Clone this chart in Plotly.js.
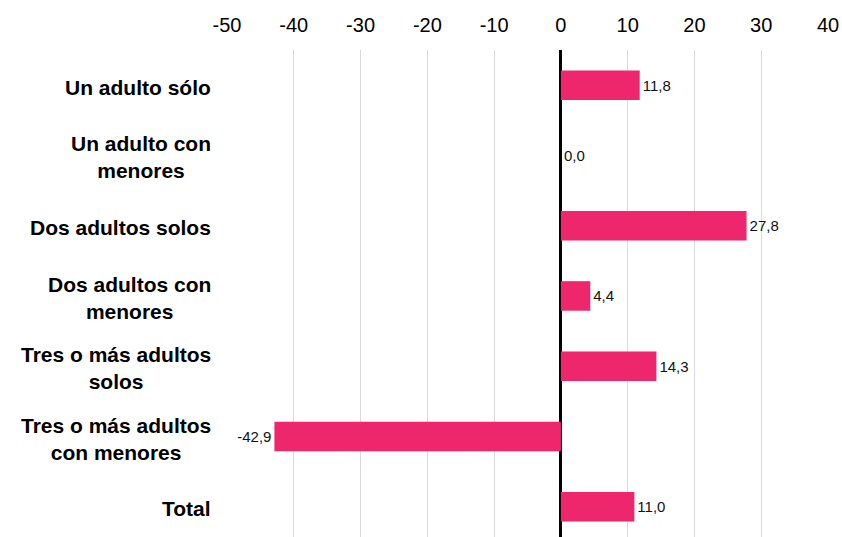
<!DOCTYPE html>
<html>
<head>
<meta charset="utf-8">
<script src="https://cdn.plot.ly/plotly-3.0.1.min.js"></script>
<style>
  html, body { margin: 0; padding: 0; background: #fff; }
  #chart { width: 842px; height: 537px; }
</style>
</head>
<body>
<div id="chart"></div>
<script>
const categories = [
  'Un adulto sólo',
  'Un adulto con<br>menores',
  'Dos adultos solos',
  'Dos adultos con<br>menores',
  'Tres o más adultos<br>solos',
  'Tres o más adultos<br>con menores',
  'Total'
]
const values = [11.8, 0.0, 27.8, 4.4, 14.3, -42.9, 11.0]
const tickVals = [-50, -40, -30, -20, -10, 0, 10, 20, 30, 40]
const tickText = ['-50', '-40', '-30', '-20', '-10', '0', '10', '20', '30', '40']

const valueLabels = values.map(v => v.toFixed(1).replace('.', ','))

const barTrace = {
  type: 'bar',
  orientation: 'h',
  x: values,
  y: categories,
  width: 0.42,
  marker: {color: '#EE266B'},
  text: valueLabels,
  textposition: 'outside',
  cliponaxis: false,
  textfont: {family: 'Liberation Sans, Arial, sans-serif', size: 15, color: '#111'},
  hoverinfo: 'skip'
}

const categoryLabels = categories.map(c => ({
  xref: 'paper',
  yref: 'y',
  x: 0,
  y: c,
  xanchor: 'right',
  yanchor: 'middle',
  xshift: -14,
  yshift: -2,
  align: 'center',
  showarrow: false,
  text: '<b>' + c + '</b>',
  font: {family: 'Liberation Sans, Arial, sans-serif', size: 21, color: '#000'}
}))

const layout = {
  width: 842,
  height: 537,
  margin: {l: 227, r: 14, t: 50, b: 0, pad: 0},
  paper_bgcolor: '#fff',
  plot_bgcolor: '#fff',
  showlegend: false,
  font: {family: 'Liberation Sans, Arial, sans-serif', color: '#000'},
  xaxis: {
    side: 'top',
    range: [-50, 40],
    tickvals: tickVals,
    ticktext: tickText,
    tickfont: {size: 20, color: '#000'},
    showgrid: true,
    gridcolor: '#d9d9d9',
    gridwidth: 1,
    zeroline: true,
    zerolinecolor: '#000',
    zerolinewidth: 3,
    showline: false,
    ticks: '',
    ticklabelstandoff: 13,
    fixedrange: true
  },
  yaxis: {
    type: 'category',
    range: [6.43, -0.5],
    showticklabels: false,
    showgrid: false,
    zeroline: false,
    showline: false,
    ticks: '',
    fixedrange: true
  },
  annotations: categoryLabels
}

Plotly.newPlot('chart', [barTrace], layout, {displayModeBar: false, staticPlot: true})
</script>
</body>
</html>
